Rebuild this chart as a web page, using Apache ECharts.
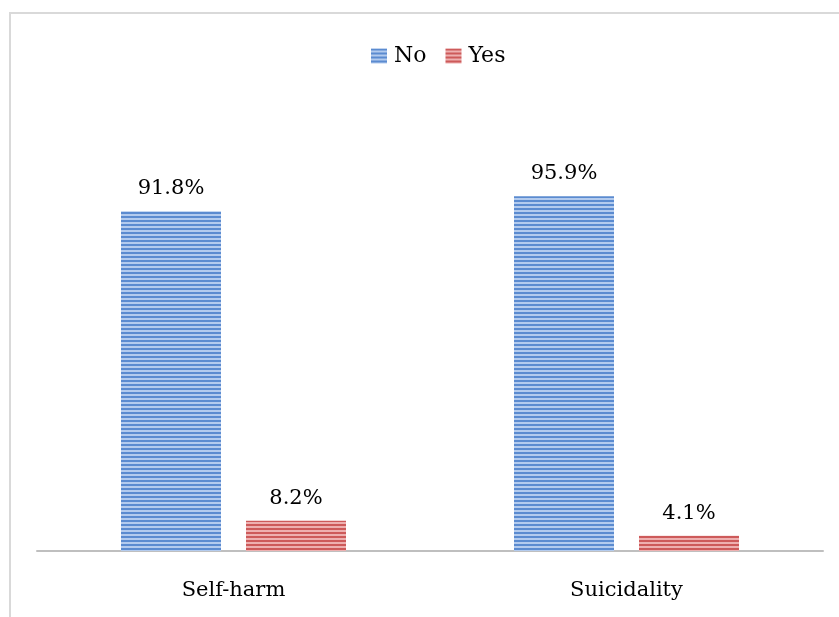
<!DOCTYPE html>
<html><head><meta charset="utf-8">
<script src="https://cdn.jsdelivr.net/npm/echarts@6/dist/echarts.min.js"></script>
<style>html,body{margin:0;padding:0;background:#fff}#c{width:839px;height:617px}</style>
</head><body><div id="c"></div>
<script>
const categories = ['Self-harm', 'Suicidality'];
const seriesNames = ['No', 'Yes'];
const noValues = [91.8, 95.9];
const yesValues = [8.2, 4.1];

function stripes(dark, light) {
  const c = document.createElement('canvas');
  c.width = 8; c.height = 4;
  const g = c.getContext('2d');
  g.fillStyle = light; g.fillRect(0, 0, 8, 4);
  g.fillStyle = dark; g.fillRect(0, 0, 8, 2);
  return { image: c, repeat: 'repeat' };
}
const bluePat = stripes('#5b8bd0', '#b3cbee');
const redPat = stripes('#cd5a5a', '#eeb0b0');
const font = 'DejaVu Serif';

const chart = echarts.init(document.getElementById('c'));
chart.setOption({
  animation: false,
  backgroundColor: '#fff',
  graphic: [{ type: 'rect', shape: { x: 10, y: 13, width: 850, height: 620 }, style: { fill: 'none', stroke: '#d9d9d9', lineWidth: 2 }, silent: true }],
  legend: {
    top: 40, left: 366, icon: 'rect', itemWidth: 16, itemHeight: 15, itemGap: 19,
    textStyle: { fontFamily: font, fontSize: 22, color: '#000', padding: [0, 0, 0, 2] },
    data: seriesNames
  },
  grid: { left: 37, right: 16, top: 181, bottom: 66 },
  xAxis: {
    type: 'category', data: categories,
    axisLine: { lineStyle: { color: '#bfbfbf', width: 2 } },
    axisTick: { show: false },
    axisLabel: { fontFamily: font, fontSize: 21, color: '#000', margin: 29 }
  },
  yAxis: { type: 'value', min: 0, max: 100, show: false, splitLine: { show: false } },
  series: [
    { name: 'No', type: 'bar', data: noValues, barWidth: 100, barGap: '25%',
      itemStyle: { color: bluePat },
      label: { show: true, position: 'top', distance: 12, formatter: p => p.value.toFixed(1) + '%', fontFamily: font, fontSize: 21, color: '#000' } },
    { name: 'Yes', type: 'bar', data: yesValues, barWidth: 100,
      itemStyle: { color: redPat },
      label: { show: true, position: 'top', distance: 12, formatter: p => p.value.toFixed(1) + '%', fontFamily: font, fontSize: 21, color: '#000' } }
  ]
});
</script></body></html>
